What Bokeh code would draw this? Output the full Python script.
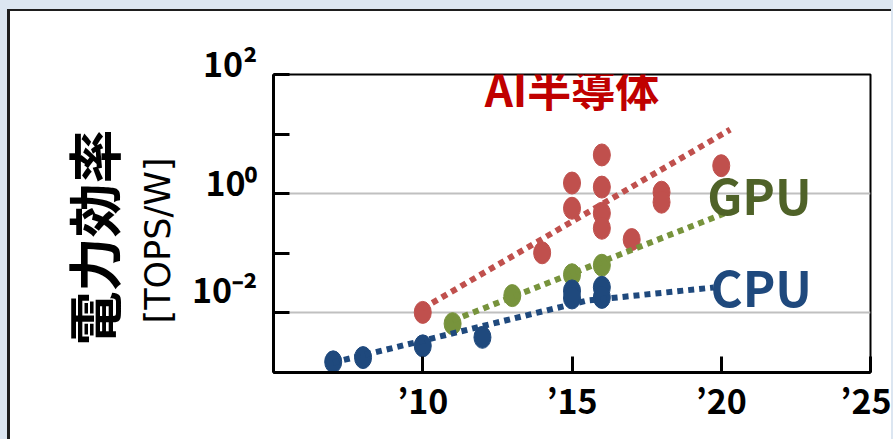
from bokeh.plotting import figure
from bokeh.models import FixedTicker, Label, Title
from bokeh.embed import file_html
from bokeh.resources import INLINE

# ---------------- data ----------------
cpu_years = [2007, 2008, 2010, 2012, 2015, 2015, 2016, 2016]
cpu_eff = [0.00151, 0.00178, 0.00280, 0.00389, 0.0234, 0.0178, 0.0269, 0.0182]

gpu_years = [2011, 2013, 2015, 2016]
gpu_eff = [0.0066, 0.0195, 0.0437, 0.063]

ai_years = [2010, 2014, 2015, 2015, 2016, 2016, 2016, 2016, 2017, 2018, 2018, 2020]
ai_eff = [0.0102, 0.102, 1.51, 0.57, 4.47, 1.29, 0.47, 0.263, 0.17, 1.06, 0.72, 2.95]

# trend lines (dotted)
ai_trend_x = [2010, 2020.3]
ai_trend_y = [0.0119, 11.9]
gpu_trend_x = [2011, 2020.1]
gpu_trend_y = [0.00745, 0.466]
cpu_trend_x = [2007, 2015.5, 2019.75]
cpu_trend_y = [0.00147, 0.0161, 0.0267]

x_ticks = [2010, 2015, 2020, 2025]
x_tick_labels = ["\u201910", "\u201915", "\u201920", "\u201925"]
y_ticks = [1e-3, 1e-2, 1e-1, 1e0, 1e1, 1e2]
y_tick_labels = ["", "10\u207b\u00b2\n \n ", "", "10\u2070\n ", "", "10\u00b2\n "]

RED, GREEN, BLUE = "#c0504d", "#77933c", "#1f497d"
JP = "Noto Sans CJK JP"

p = figure(width=884, height=430, x_range=(2005, 2025), y_range=(1e-3, 1e2),
           y_axis_type="log", output_backend="svg", toolbar_location=None,
           min_border_left=263, min_border_right=24, min_border_top=63,
           min_border_bottom=69)
p.styles = {"margin-left": "7px", "margin-top": "9px",
            "border-left": "3px solid #1e1e1e", "border-top": "2px solid #1e1e1e",
            "box-shadow": "-7px -9px 0 9px #dce6f1"}
p.background_fill_color = "white"
p.border_fill_color = "white"
p.outline_line_color = "black"
p.outline_line_width = 2

# axes
p.xaxis.ticker = FixedTicker(ticks=x_ticks, minor_ticks=[])
p.xaxis.major_label_overrides = {t: s for t, s in zip(x_ticks, x_tick_labels)}
p.yaxis.ticker = FixedTicker(ticks=y_ticks, minor_ticks=[])
p.yaxis.major_label_overrides = {t: s for t, s in zip(y_ticks, y_tick_labels)}
for ax in (p.xaxis, p.yaxis):
    ax.axis_line_width = 3
    ax.axis_line_color = "black"
    ax.major_tick_in = 16
    ax.major_tick_out = 0
    ax.major_tick_line_width = 3
    ax.major_tick_line_color = "black"
    ax.minor_tick_line_color = None
    ax.major_label_text_font = JP
    ax.major_label_text_font_style = "bold"
    ax.major_label_text_font_size = "34px"
    ax.major_label_text_color = "black"
p.xaxis.major_label_standoff = 2
p.yaxis.major_label_standoff = 16
p.yaxis.major_label_text_line_height = 0.5

p.xgrid.visible = False
p.ygrid.ticker = FixedTicker(ticks=[1e-2, 1e0])
p.ygrid.grid_line_color = "#c0c0c0"
p.ygrid.grid_line_width = 2

# y axis title (two parts)
p.add_layout(Title(text="[TOPS/W]", align="left", offset=49, standoff=22,
                   text_font="DejaVu Sans", text_font_size="35px",
                   text_font_style="normal", text_color="black"), "left")
p.add_layout(Title(text="電力効率", align="left", offset=27, standoff=-14,
                   text_font=JP, text_font_size="54px",
                   text_font_style="bold", text_color="black"), "left")

# points
for xs, ys, c in ((ai_years, ai_eff, RED), (gpu_years, gpu_eff, GREEN), (cpu_years, cpu_eff, BLUE)):
    p.ellipse(x=xs, y=ys, width=17, height=22, width_units="screen", height_units="screen",
              fill_color=c, line_color=c)

# trend lines
for xs, ys, c in ((ai_trend_x, ai_trend_y, RED), (gpu_trend_x, gpu_trend_y, GREEN), (cpu_trend_x, cpu_trend_y, BLUE)):
    p.line(xs, ys, line_color=c, line_width=6, line_dash="6 5")

# series labels
p.add_layout(Label(x=2015.0, y=56, y_offset=2, text="AI半導体", text_font=JP, text_font_style="bold",
                   text_font_size="44px", text_color="#c00000", text_align="center",
                   text_baseline="middle"))
p.add_layout(Label(x=2021.28, y=1.0, text="GPU", text_font=JP, text_font_style="bold",
                   text_font_size="49px", text_color="#4f6228", text_align="center",
                   text_baseline="middle"))
p.add_layout(Label(x=2021.34, y=0.0288, text="CPU", text_font=JP, text_font_style="bold",
                   text_font_size="49px", text_color="#1f497d", text_align="center",
                   text_baseline="middle"))

open("out.html", "w").write(file_html(p, INLINE))
